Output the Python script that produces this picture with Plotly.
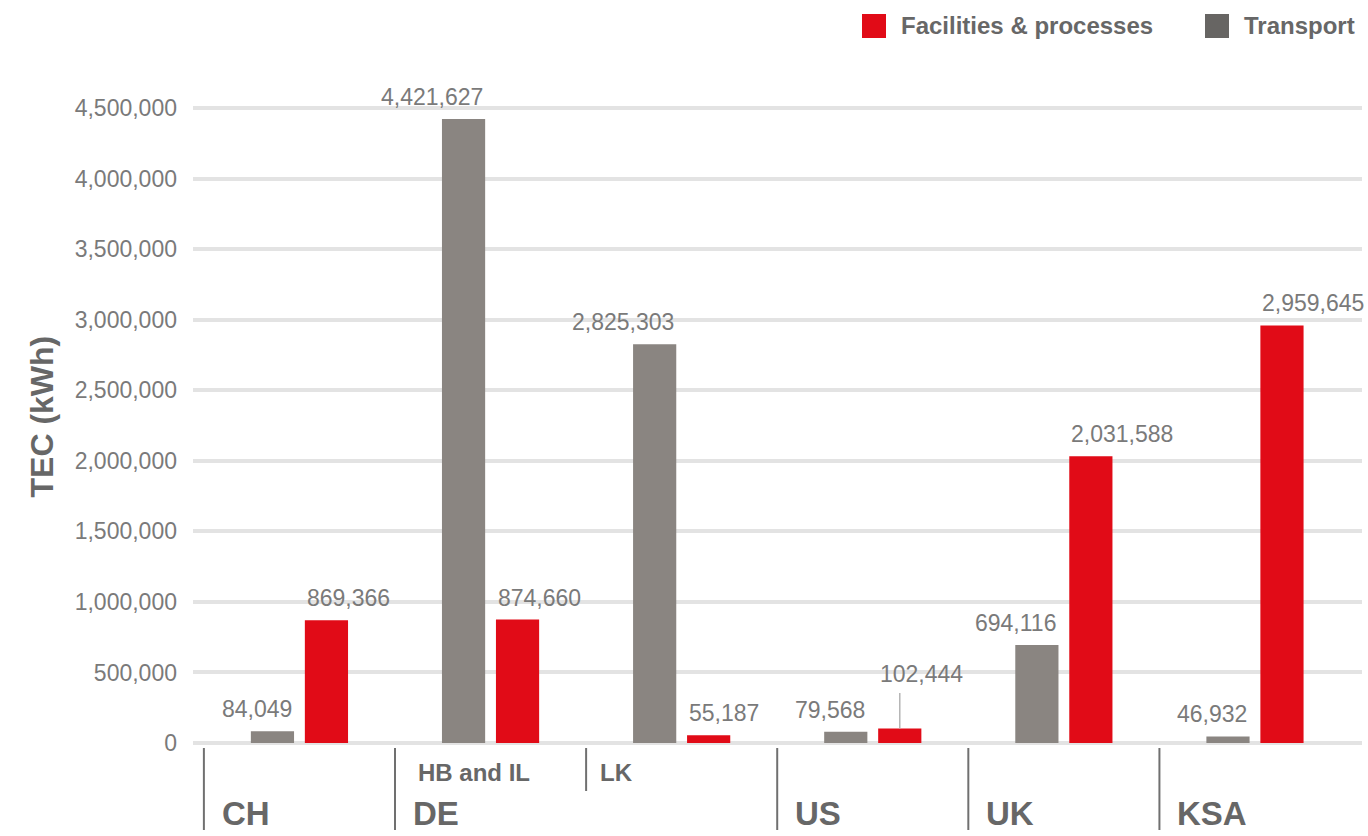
import plotly.graph_objects as go

# data
sites = ["CH", "HB and IL", "LK", "US", "UK", "KSA"]
countries = ["CH", "DE", "DE", "US", "UK", "KSA"]
site_labels = ["", "HB and IL", "LK", "", "", ""]
transport = [84049, 4421627, 2825303, 79568, 694116, 46932]
facilities = [869366, 874660, 55187, 102444, 2031588, 2959645]
y_ticks = [0, 500000, 1000000, 1500000, 2000000, 2500000, 3000000, 3500000, 4000000, 4500000]

RED = '#e10b17'
GREY_BAR = '#8a8581'
GREY_KEY = '#676563'
TEXT = '#676767'
NUM = '#7a7a7a'
GRID = '#e3e3e3'
FONT = 'Liberation Sans, Arial, sans-serif'

# plot area in pixels (used only to place the hand-drawn key and labels)
L, R, T, B = 193, 1362, 90, 743
def px(x):
    return (x - L) / (R - L)
def py(y):
    return (B - y) / (B - T)

fig = go.Figure()
fig.add_trace(go.Bar(x=sites, y=transport, name='Transport', marker_color=GREY_BAR,
                     marker_line_width=0, showlegend=False, hoverinfo='skip'))
fig.add_trace(go.Bar(x=sites, y=facilities, name='Facilities & processes', marker_color=RED,
                     marker_line_width=0, showlegend=False, hoverinfo='skip'))

annotations = []
shapes = []

# value labels: transport right-aligned to its bar, facilities left-aligned
lift = {('f', 'US'): 33}
for i, s in enumerate(sites):
    annotations.append(dict(x=s, y=transport[i], text=f'{transport[i]:,}', xanchor='right',
                            yanchor='bottom', xshift=-5.5, yshift=7 + lift.get(('t', s), 0),
                            showarrow=False, font=dict(size=23, color=NUM, family=FONT)))
    annotations.append(dict(x=s, y=facilities[i], text=f'{facilities[i]:,}', xanchor='left',
                            yanchor='bottom', xshift=5.5, yshift=7 + lift.get(('f', s), 0),
                            showarrow=False, font=dict(size=23, color=NUM, family=FONT)))
    if ('f', s) in lift:
        annotations.append(dict(x=s, y=facilities[i], text='', xshift=27, showarrow=True,
                                arrowhead=0, ax=0, ay=-37, standoff=0, arrowwidth=1.5,
                                arrowcolor='#b5b5b5'))

# category labels and separators under the axis
for i, c in enumerate(countries):
    new_country = i == 0 or countries[i - 1] != c
    if new_country:
        shapes.append(dict(type='line', xref='x', yref='paper', x0=i - 0.5, x1=i - 0.5,
                           y0=py(748), y1=py(830), line=dict(color='#707070', width=2)))
        annotations.append(dict(x=i - 0.5, y=py(813), xref='x', yref='paper', text=f'<b>{c}</b>',
                                xanchor='left', yanchor='middle', xshift=16, showarrow=False,
                                font=dict(size=33, color=TEXT, family=FONT)))
    elif site_labels[i]:
        shapes.append(dict(type='line', xref='x', yref='paper', x0=i - 0.5, x1=i - 0.5,
                           y0=py(748), y1=py(791), line=dict(color='#707070', width=2)))
    if site_labels[i]:
        annotations.append(dict(x=i - 0.5, y=py(772), xref='x', yref='paper',
                                text=f'<b>{site_labels[i]}</b>', xanchor='left', yanchor='middle',
                                xshift=12 if not new_country else 21, showarrow=False,
                                font=dict(size=24, color=TEXT, family=FONT)))

# key, drawn by hand to get the large swatches
for name, color, x0, xt in [('Facilities & processes', RED, 862, 899),
                            ('Transport', GREY_KEY, 1205, 1242)]:
    shapes.append(dict(type='rect', xref='paper', yref='paper', x0=px(x0), x1=px(x0 + 24),
                       y0=py(38), y1=py(14), fillcolor=color, line_width=0))
    annotations.append(dict(x=px(xt), y=py(26), xref='paper', yref='paper', text=f'<b>{name}</b>',
                            xanchor='left', yanchor='middle', showarrow=False,
                            font=dict(size=24, color=TEXT, family=FONT)))

# axis title
annotations.append(dict(x=0, y=0.5, xref='paper', yref='paper', xshift=-152, text='<b>TEC (kWh)</b>',
                        textangle=-90, showarrow=False, xanchor='center', yanchor='middle',
                        font=dict(size=32, color=TEXT, family=FONT)))

fig.update_layout(
    width=1368, height=836,
    margin=dict(l=L, r=1368 - R, t=T, b=836 - B),
    paper_bgcolor='white', plot_bgcolor='white',
    barmode='group', bargap=0.435, bargroupgap=0.2,
    font=dict(family=FONT),
    annotations=annotations, shapes=shapes,
    showlegend=False,
)
fig.update_xaxes(type='category', range=[-0.557, 5.56], showticklabels=False, showgrid=False,
                 zeroline=False, showline=False, ticks='')
fig.update_yaxes(range=[0, 4628000], tickvals=y_ticks, tickformat=',', showgrid=True, gridcolor=GRID,
                 gridwidth=4, zeroline=True, zerolinecolor=GRID, zerolinewidth=4, showline=False,
                 ticks='', ticklabelstandoff=15, tickfont=dict(size=23, color=NUM, family=FONT))

# the page's default body margin would push the figure 8px off the corner
fig.write_html('out.html', config={'displayModeBar': False},
               post_script="document.body.style.margin = '0';")
